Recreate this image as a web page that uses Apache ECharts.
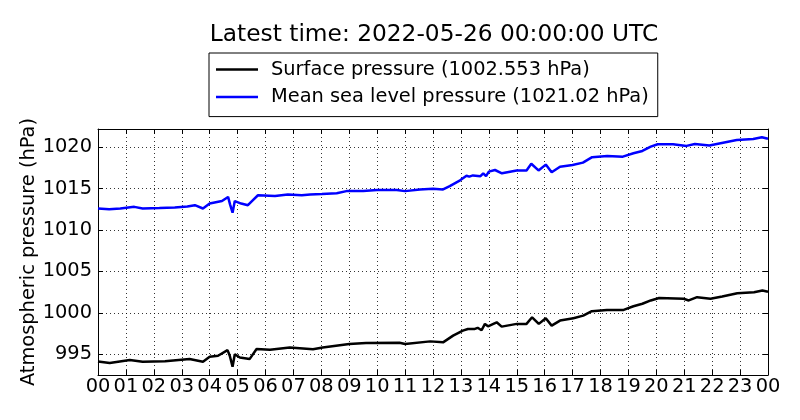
<!DOCTYPE html>
<html>
<head>
<meta charset="utf-8">
<script src="https://cdn.jsdelivr.net/npm/echarts@6/dist/echarts.min.js"></script>
<style>
  html, body { margin: 0; padding: 0; background: #fff; }
  #chart { width: 800px; height: 420px; }
</style>
</head>
<body>
<div id="chart"></div>
<script>
// hours since 00 UTC
var sfcHours = [0, 0.42, 1.14, 1.6, 2.4, 3.28, 3.76, 4.0, 4.3, 4.64, 4.72, 4.82, 4.9, 5.08, 5.43, 5.68,
	6.16, 6.87, 7.7, 8.05, 9.0, 9.6, 10.8, 11.0, 11.9, 12.36, 12.72, 13.07, 13.25, 13.5, 13.6, 13.74,
	13.86, 13.97, 14.28, 14.46, 15.0, 15.35, 15.55, 15.79, 16.04, 16.25, 16.55, 17.03, 17.38, 17.69,
	18.23, 18.83, 19.18, 19.5, 19.8, 20.1, 20.98, 21.16, 21.46, 21.94, 22.36, 22.9, 23.5, 23.8, 24];
var sfcValues = [994.13, 993.94, 994.3, 994.1, 994.15, 994.42, 994.1, 994.7, 994.82, 995.5, 994.82, 993.5, 995.0, 994.62, 994.42, 995.63,
	995.55, 995.83, 995.6, 995.83, 996.24, 996.36, 996.4, 996.24, 996.56, 996.44, 997.25, 997.85, 998.06, 998.06, 998.2, 997.9,
	998.67, 998.38, 998.86, 998.34, 998.67, 998.67, 999.47, 998.67, 999.35, 998.46, 999.07, 999.35, 999.67, 1000.2,
	1000.36, 1000.36, 1000.8, 1001.1, 1001.5, 1001.8, 1001.7, 1001.5, 1001.9, 1001.7, 1001.98, 1002.38, 1002.5, 1002.7, 1002.553];

var mslpHours = [0, 0.4, 0.8, 1.3, 1.6, 2.2, 2.75, 3.2, 3.47, 3.76, 4.0, 4.44, 4.66, 4.73, 4.82, 4.9,
	5.13, 5.37, 5.55, 5.73, 6.34, 6.8, 7.3, 7.6, 8.02, 8.55, 8.9, 9.5, 10.0, 10.7, 11.0, 11.53,
	12.0, 12.36, 12.6, 12.97, 13.2, 13.3, 13.43, 13.7, 13.8, 13.9, 14.0, 14.22, 14.47, 15.0, 15.35,
	15.52, 15.78, 16.04, 16.25, 16.55, 17.0, 17.37, 17.7, 18.24, 18.8, 19.18, 19.5, 19.8, 20.05,
	20.6, 21.08, 21.38, 21.9, 22.3, 22.88, 23.47, 23.78, 24];
var mslpValues = [1012.6, 1012.5, 1012.6, 1012.8, 1012.6, 1012.65, 1012.73, 1012.85, 1013.0, 1012.6, 1013.2, 1013.5, 1014.0, 1013.1, 1012.1, 1013.5,
	1013.2, 1013.0, 1013.6, 1014.2, 1014.1, 1014.3, 1014.2, 1014.3, 1014.35, 1014.45, 1014.7, 1014.7, 1014.83, 1014.83, 1014.7, 1014.9,
	1015.0, 1014.9, 1015.3, 1016.0, 1016.56, 1016.45, 1016.6, 1016.5, 1016.85, 1016.5, 1017.05, 1017.25, 1016.85, 1017.2, 1017.2,
	1018.0, 1017.2, 1017.9, 1016.97, 1017.65, 1017.85, 1018.14, 1018.8, 1018.95, 1018.86, 1019.27, 1019.55, 1020.07, 1020.36,
	1020.36, 1020.16, 1020.4, 1020.2, 1020.48, 1020.88, 1021.0, 1021.2, 1021.02];

var titleText = 'Latest time: 2022-05-26 00:00:00 UTC';
var sfcName = 'Surface pressure (1002.553 hPa)';
var mslpName = 'Mean sea level pressure (1021.02 hPa)';
var yLabel = 'Atmospheric pressure (hPa)';

function zip(xs, ys) {
	var out = [];
	for (var i = 0; i < xs.length; i++) out.push([xs[i], ys[i]]);
	return out;
}

var font = 'DejaVu Sans';
var fs = 19.4;
var tick = { show: true, inside: true, length: 5, lineStyle: { color: '#000', width: 1 } };
var line = { show: true, onZero: false, lineStyle: { color: '#000', width: 1 } };
var grid_ = { show: true, lineStyle: { color: '#000', width: 0.8, type: [1, 3] } };

var myChart = echarts.init(document.getElementById('chart'));
var option = {
	backgroundColor: '#fff',
	animation: false,
	textStyle: { fontFamily: font },
	title: {
		text: titleText,
		left: 429,
		textAlign: 'center',
		top: 18,
		textStyle: { fontFamily: font, fontSize: 23.3, fontWeight: 'normal', color: '#000' }
	},
	legend: {
		data: [sfcName, mslpName],
		orient: 'vertical',
		left: 209,
		top: 53,
		padding: [7, 9, 10, 7],
		itemGap: 8.6,
		itemWidth: 42,
		itemHeight: 2.5,
		icon: 'rect',
		borderColor: '#000',
		borderWidth: 1,
		textStyle: { fontFamily: font, fontSize: fs, color: '#000', padding: [0, 0, 0, 8] }
	},
	grid: {
		left: 98, right: 32, top: 129, bottom: 45,
		containLabel: false,
		outerBoundsMode: 'none'
	},
	xAxis: [{
		type: 'value',
		min: 0, max: 24, interval: 1,
		axisLine: line,
		axisTick: tick,
		splitLine: grid_,
		axisLabel: {
			margin: 2,
			fontFamily: font, fontSize: fs, color: '#000',
			formatter: function (v) { return ('0' + (v % 24)).slice(-2); }
		}
	}, {
		type: 'value', position: 'top',
		min: 0, max: 24, interval: 1,
		axisLine: line, axisTick: tick,
		splitLine: { show: false }, axisLabel: { show: false }
	}],
	yAxis: [{
		type: 'value',
		min: 992.5, max: 1022.2,
		minInterval: 5, maxInterval: 5,
		axisLine: line,
		axisTick: tick,
		splitLine: grid_,
		axisLabel: {
			margin: 6, showMinLabel: false, showMaxLabel: false,
			fontFamily: font, fontSize: fs, color: '#000',
			formatter: function (v) { return String(v); }
		},
		name: yLabel,
		nameLocation: 'middle',
		nameGap: 60,
		nameMoveOverlap: false,
		nameTextStyle: { fontFamily: font, fontSize: fs, color: '#000' }
	}, {
		type: 'value', position: 'right',
		min: 992.5, max: 1022.2,
		minInterval: 5, maxInterval: 5,
		axisLine: line, axisTick: tick,
		splitLine: { show: false }, axisLabel: { show: false }
	}],
	series: [{
		name: sfcName,
		type: 'line',
		symbol: 'none',
		color: '#000',
		lineStyle: { color: '#000', width: 2.5 },
		data: zip(sfcHours, sfcValues)
	}, {
		name: mslpName,
		type: 'line',
		symbol: 'none',
		color: '#0000ff',
		lineStyle: { color: '#0000ff', width: 2.5 },
		data: zip(mslpHours, mslpValues)
	}]
};
myChart.setOption(option);
</script>
</body>
</html>
